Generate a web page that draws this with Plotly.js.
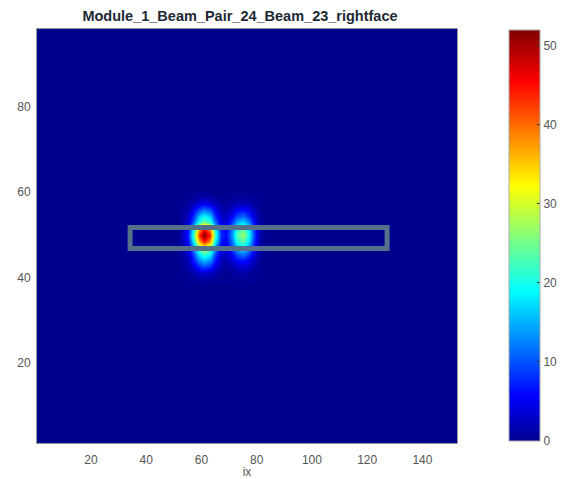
<!DOCTYPE html>
<html>
<head>
<meta charset="utf-8">
<script src="https://cdn.plot.ly/plotly-3.0.1.min.js"></script>
<style>html,body{margin:0;padding:0;background:#fff;}#chart{width:562px;height:479px;}</style>
</head>
<body>
<div id="chart"></div>
<script>
// Sample positions (ix, iy) around the two spots; everywhere else the map is 0
const ixCols = [53, 55, 57, 59, 61, 63, 65, 67, 69, 71, 73, 75, 77, 79, 81];
const iyRows = [39.5, 41, 42.5, 44, 45.5, 47, 48.5, 50, 51.5, 53, 54.5, 56, 57.5, 59];
// Values, one row per iy (bottom to top)
const zRows = [
  [0.0, 0.1, 0.3, 0.7, 0.8, 0.7, 0.3, 0.1, 0.1, 0.2, 0.3, 0.3, 0.2, 0.1, 0.0],
  [0.1, 0.4, 1.2, 2.5, 3.0, 2.5, 1.3, 0.4, 0.2, 0.5, 0.9, 1.0, 0.8, 0.3, 0.1],
  [0.4, 1.3, 3.6, 7.4, 9.0, 7.6, 3.8, 1.3, 0.7, 1.5, 2.6, 3.0, 2.3, 1.0, 0.2],
  [0.6, 2.2, 6.4, 13.1, 16.0, 13.4, 6.9, 2.3, 1.6, 3.5, 6.0, 7.0, 5.5, 2.4, 0.6],
  [0.9, 3.1, 8.8, 18.0, 22.0, 18.5, 9.5, 3.4, 2.6, 6.0, 10.3, 12.0, 9.4, 4.1, 1.0],
  [1.2, 4.2, 12.0, 24.6, 30.0, 25.2, 13.0, 4.7, 3.8, 9.0, 15.5, 18.0, 14.0, 6.1, 1.4],
  [1.8, 6.3, 18.0, 36.9, 45.0, 37.8, 19.4, 6.8, 5.2, 12.0, 20.6, 24.0, 18.7, 8.2, 1.9],
  [2.1, 7.3, 20.8, 42.6, 52.0, 43.7, 22.4, 7.9, 5.9, 13.5, 23.2, 27.0, 21.1, 9.2, 2.2],
  [1.8, 6.2, 17.6, 36.1, 44.0, 37.0, 19.0, 6.7, 5.2, 12.0, 20.6, 24.0, 18.7, 8.2, 1.9],
  [1.0, 3.5, 10.0, 20.5, 25.0, 21.0, 10.8, 4.0, 3.6, 8.5, 14.6, 17.0, 13.3, 5.8, 1.4],
  [0.8, 2.7, 7.6, 15.6, 19.0, 16.0, 8.2, 2.9, 2.4, 5.5, 9.5, 11.0, 8.6, 3.7, 0.9],
  [0.4, 1.5, 4.4, 9.0, 11.0, 9.2, 4.7, 1.7, 1.3, 3.0, 5.2, 6.0, 4.7, 2.0, 0.5],
  [0.2, 0.6, 1.8, 3.7, 4.5, 3.8, 1.9, 0.7, 0.5, 1.0, 1.7, 2.0, 1.6, 0.7, 0.2],
  [0.0, 0.1, 0.4, 0.8, 1.0, 0.8, 0.4, 0.1, 0.1, 0.3, 0.4, 0.5, 0.4, 0.2, 0.0]
];
// Zero border of the map
const ixEdges = [1, 51, 83, 152];
const iyEdges = [1, 38, 60.5, 98];
// Region of interest box
const boxX = [34.2, 127.2];
const boxY = [46.75, 51.7];
const xTicks = [20, 40, 60, 80, 100, 120, 140];
const yTicks = [20, 40, 60, 80];
const cTicks = [0, 10, 20, 30, 40, 50];
const titleText = 'Module_1_Beam_Pair_24_Beam_23_rightface';

// assemble padded grid
const xs = [ixEdges[0], ixEdges[1]].concat(ixCols, [ixEdges[2], ixEdges[3]]);
const ys = [iyEdges[0], iyEdges[1]].concat(iyRows, [iyEdges[2], iyEdges[3]]);
const zeroRow = xs.map(() => 0);
const z = [zeroRow.slice(), zeroRow.slice()];
zRows.forEach(r => z.push([0, 0].concat(r, [0, 0])));
z.push(zeroRow.slice(), zeroRow.slice());

const jet = [
  [0, 'rgb(0,0,143)'],
  [0.11, 'rgb(0,0,255)'],
  [0.365, 'rgb(0,255,255)'],
  [0.62, 'rgb(255,255,0)'],
  [0.875, 'rgb(255,0,0)'],
  [1, 'rgb(128,0,0)']
];

const font = {family: '"Liberation Sans", Arial, sans-serif', size: 12, color: '#555'};

const trace = {
  type: 'heatmap',
  x: xs, y: ys, z: z,
  zsmooth: 'best',
  colorscale: jet,
  zmin: 0, zmax: 52,
  colorbar: {
    thickness: 31, thicknessmode: 'pixels',
    len: 411, lenmode: 'pixels',
    xref: 'container', x: 509 / 562, xanchor: 'left', xpad: 0,
    yref: 'paper', y: (443 - 235.5) / 414, yanchor: 'middle', ypad: 0,
    tickvals: cTicks, ticks: 'inside', ticklen: 3, tickcolor: '#333',
    outlinewidth: 1, outlinecolor: '#aaa',
    tickfont: font
  }
};

const layout = {
  width: 562, height: 479,
  margin: {l: 37, r: 105, t: 29, b: 36},
  paper_bgcolor: '#fff', plot_bgcolor: '#fff',
  font: font,
  title: {
    text: '<b>' + titleText + '</b>',
    font: {family: '"Liberation Sans", Arial, sans-serif', size: 14.5, color: '#1c2833'},
    x: 240 / 562, xref: 'container', xanchor: 'center',
    y: 1 - 16 / 479, yref: 'container', yanchor: 'middle'
  },
  xaxis: {
    range: [0.5, 152.5], tickvals: xTicks, ticks: '', showgrid: false, zeroline: false,
    showline: true, linecolor: '#999', linewidth: 1, mirror: true,
    ticklabelstandoff: 6,
    title: {text: 'ix', font: font, standoff: 2}
  },
  yaxis: {
    range: [1.2, 98.2], tickvals: yTicks, ticks: '', showgrid: false, zeroline: false,
    showline: true, linecolor: '#999', linewidth: 1, mirror: true,
    ticklabelstandoff: 3
  },
  shapes: [{
    type: 'rect', xref: 'x', yref: 'y',
    x0: boxX[0], x1: boxX[1], y0: boxY[0], y1: boxY[1],
    line: {color: 'rgb(84,112,138)', width: 5},
    layer: 'above'
  }]
};

Plotly.newPlot('chart', [trace], layout, {displayModeBar: false, staticPlot: true});
</script>
</body>
</html>
